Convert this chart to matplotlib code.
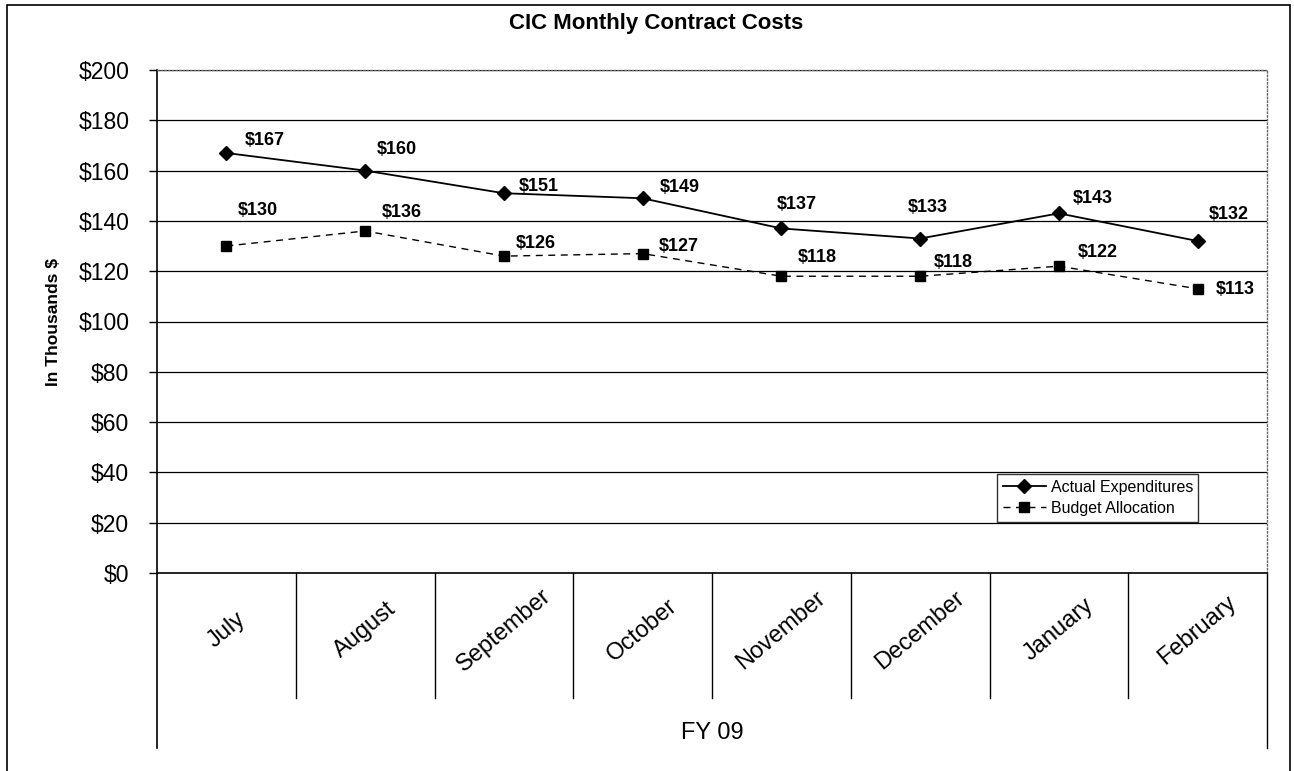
import matplotlib
matplotlib.use("Agg")
import matplotlib.pyplot as plt
from matplotlib.patches import Rectangle

plt.rcParams['font.family'] = ['Liberation Sans', 'DejaVu Sans']

months = ["July", "August", "September", "October", "November", "December", "January", "February"]
actual = [167, 160, 151, 149, 137, 133, 143, 132]
budget = [130, 136, 126, 127, 118, 118, 122, 113]
yticks = [0, 20, 40, 60, 80, 100, 120, 140, 160, 180, 200]
group_label = "FY 09"
title = "CIC Monthly Contract Costs"
ylabel = "In Thousands $"

# label offsets in pixels (dx right, dy up) relative to each point
actual_off = [(38, 12), (32, 21), (35, 7), (37, 11), (15, 24), (8, 31), (34, 15), (31, 27)]
budget_off = [(31, 36), (37, 18), (32, 13), (36, 7), (36, 19), (33, 14), (39, 14), (38, -1)]

W, H = 1294, 771
fig = plt.figure(figsize=(W / 100, H / 100), dpi=100)
L, R, T, B = 157, 1267, 70, 573
ax = fig.add_axes([L / W, 1 - B / H, (R - L) / W, (B - T) / H])

x = list(range(len(months)))
ax.set_xlim(-0.5, len(months) - 0.5)
ax.set_ylim(0, 200)

for yv in yticks[1:]:
    ax.axhline(yv, color='black', lw=0.9, zorder=1)

l1, = ax.plot(x, actual, color='black', lw=1.3, marker='D', ms=7.5, zorder=3,
              label='Actual Expenditures')
l2, = ax.plot(x, budget, color='black', lw=1.0, ls=(0, (5, 4)), marker='s', ms=7,
              zorder=3, label='Budget Allocation')

px2pt = 0.72
for series, offs in ((actual, actual_off), (budget, budget_off)):
    for xi, v, (dx, dy) in zip(x, series, offs):
        ax.annotate(f"${v}", (xi, v), xytext=(dx * px2pt, dy * px2pt),
                    textcoords='offset points', ha='center', va='center',
                    fontsize=13, fontweight='bold', zorder=4)

ax.set_yticks(yticks)
ax.set_yticklabels([f"${v}" for v in yticks], fontsize=16.5)
ax.tick_params(axis='y', direction='out', length=6, width=1, pad=14)
ax.set_xticks([])

for s in ['top', 'right']:
    ax.spines[s].set_linestyle(':')
    ax.spines[s].set_color('#666666')
    ax.spines[s].set_linewidth(1)
ax.spines['left'].set_linewidth(1.2)
ax.spines['bottom'].set_linewidth(1.2)

# multi-level category axis
tr = ax.get_xaxis_transform()
h = B - T
div_bottom = -(698 - B) / h
outer_bottom = -(748 - B) / h
for k in range(1, len(months)):
    ax.plot([k - 0.5, k - 0.5], [0, div_bottom], transform=tr, color='black', lw=1, clip_on=False)
ax.plot([-0.5, -0.5], [0, outer_bottom], transform=tr, color='black', lw=1.2, clip_on=False)
ax.plot([len(months) - 0.5] * 2, [0, outer_bottom], transform=tr, color='black', lw=1, clip_on=False)
for xi, m in zip(x, months):
    ax.text(xi, -(630 - B) / h, m, transform=tr, rotation=40, ha='center', va='center',
            fontsize=17, rotation_mode='anchor')
ax.text((len(months) - 1) / 2, -(733 - B) / h, group_label, transform=tr, ha='center',
        va='center', fontsize=17)

ax.set_ylabel(ylabel, fontsize=12.5, fontweight='bold')
ax.yaxis.set_label_coords(-(L - 53) / (R - L), 0.5)
ax.yaxis.label.set_va('center')

fig.text(656 / W, 1 - 23 / H, title, ha='center', va='center', fontsize=16, fontweight='bold')

leg = ax.legend(handles=[l1, l2], loc='upper left',
                bbox_to_anchor=((997 - L) / (R - L), (B - 474) / h),
                fontsize=11.5, frameon=True, fancybox=False, edgecolor='black',
                borderpad=0.35, labelspacing=0.4, handlelength=2.7, handletextpad=0.3,
                borderaxespad=0)
leg.get_frame().set_linewidth(1)

# outer border
fig.patches.append(Rectangle((7 / W, -0.01), (1290 - 7) / W, 1 - 5 / H + 0.01,
                             transform=fig.transFigure, fill=False, edgecolor='black', lw=1.2))

fig.savefig("out.png", dpi=100)
